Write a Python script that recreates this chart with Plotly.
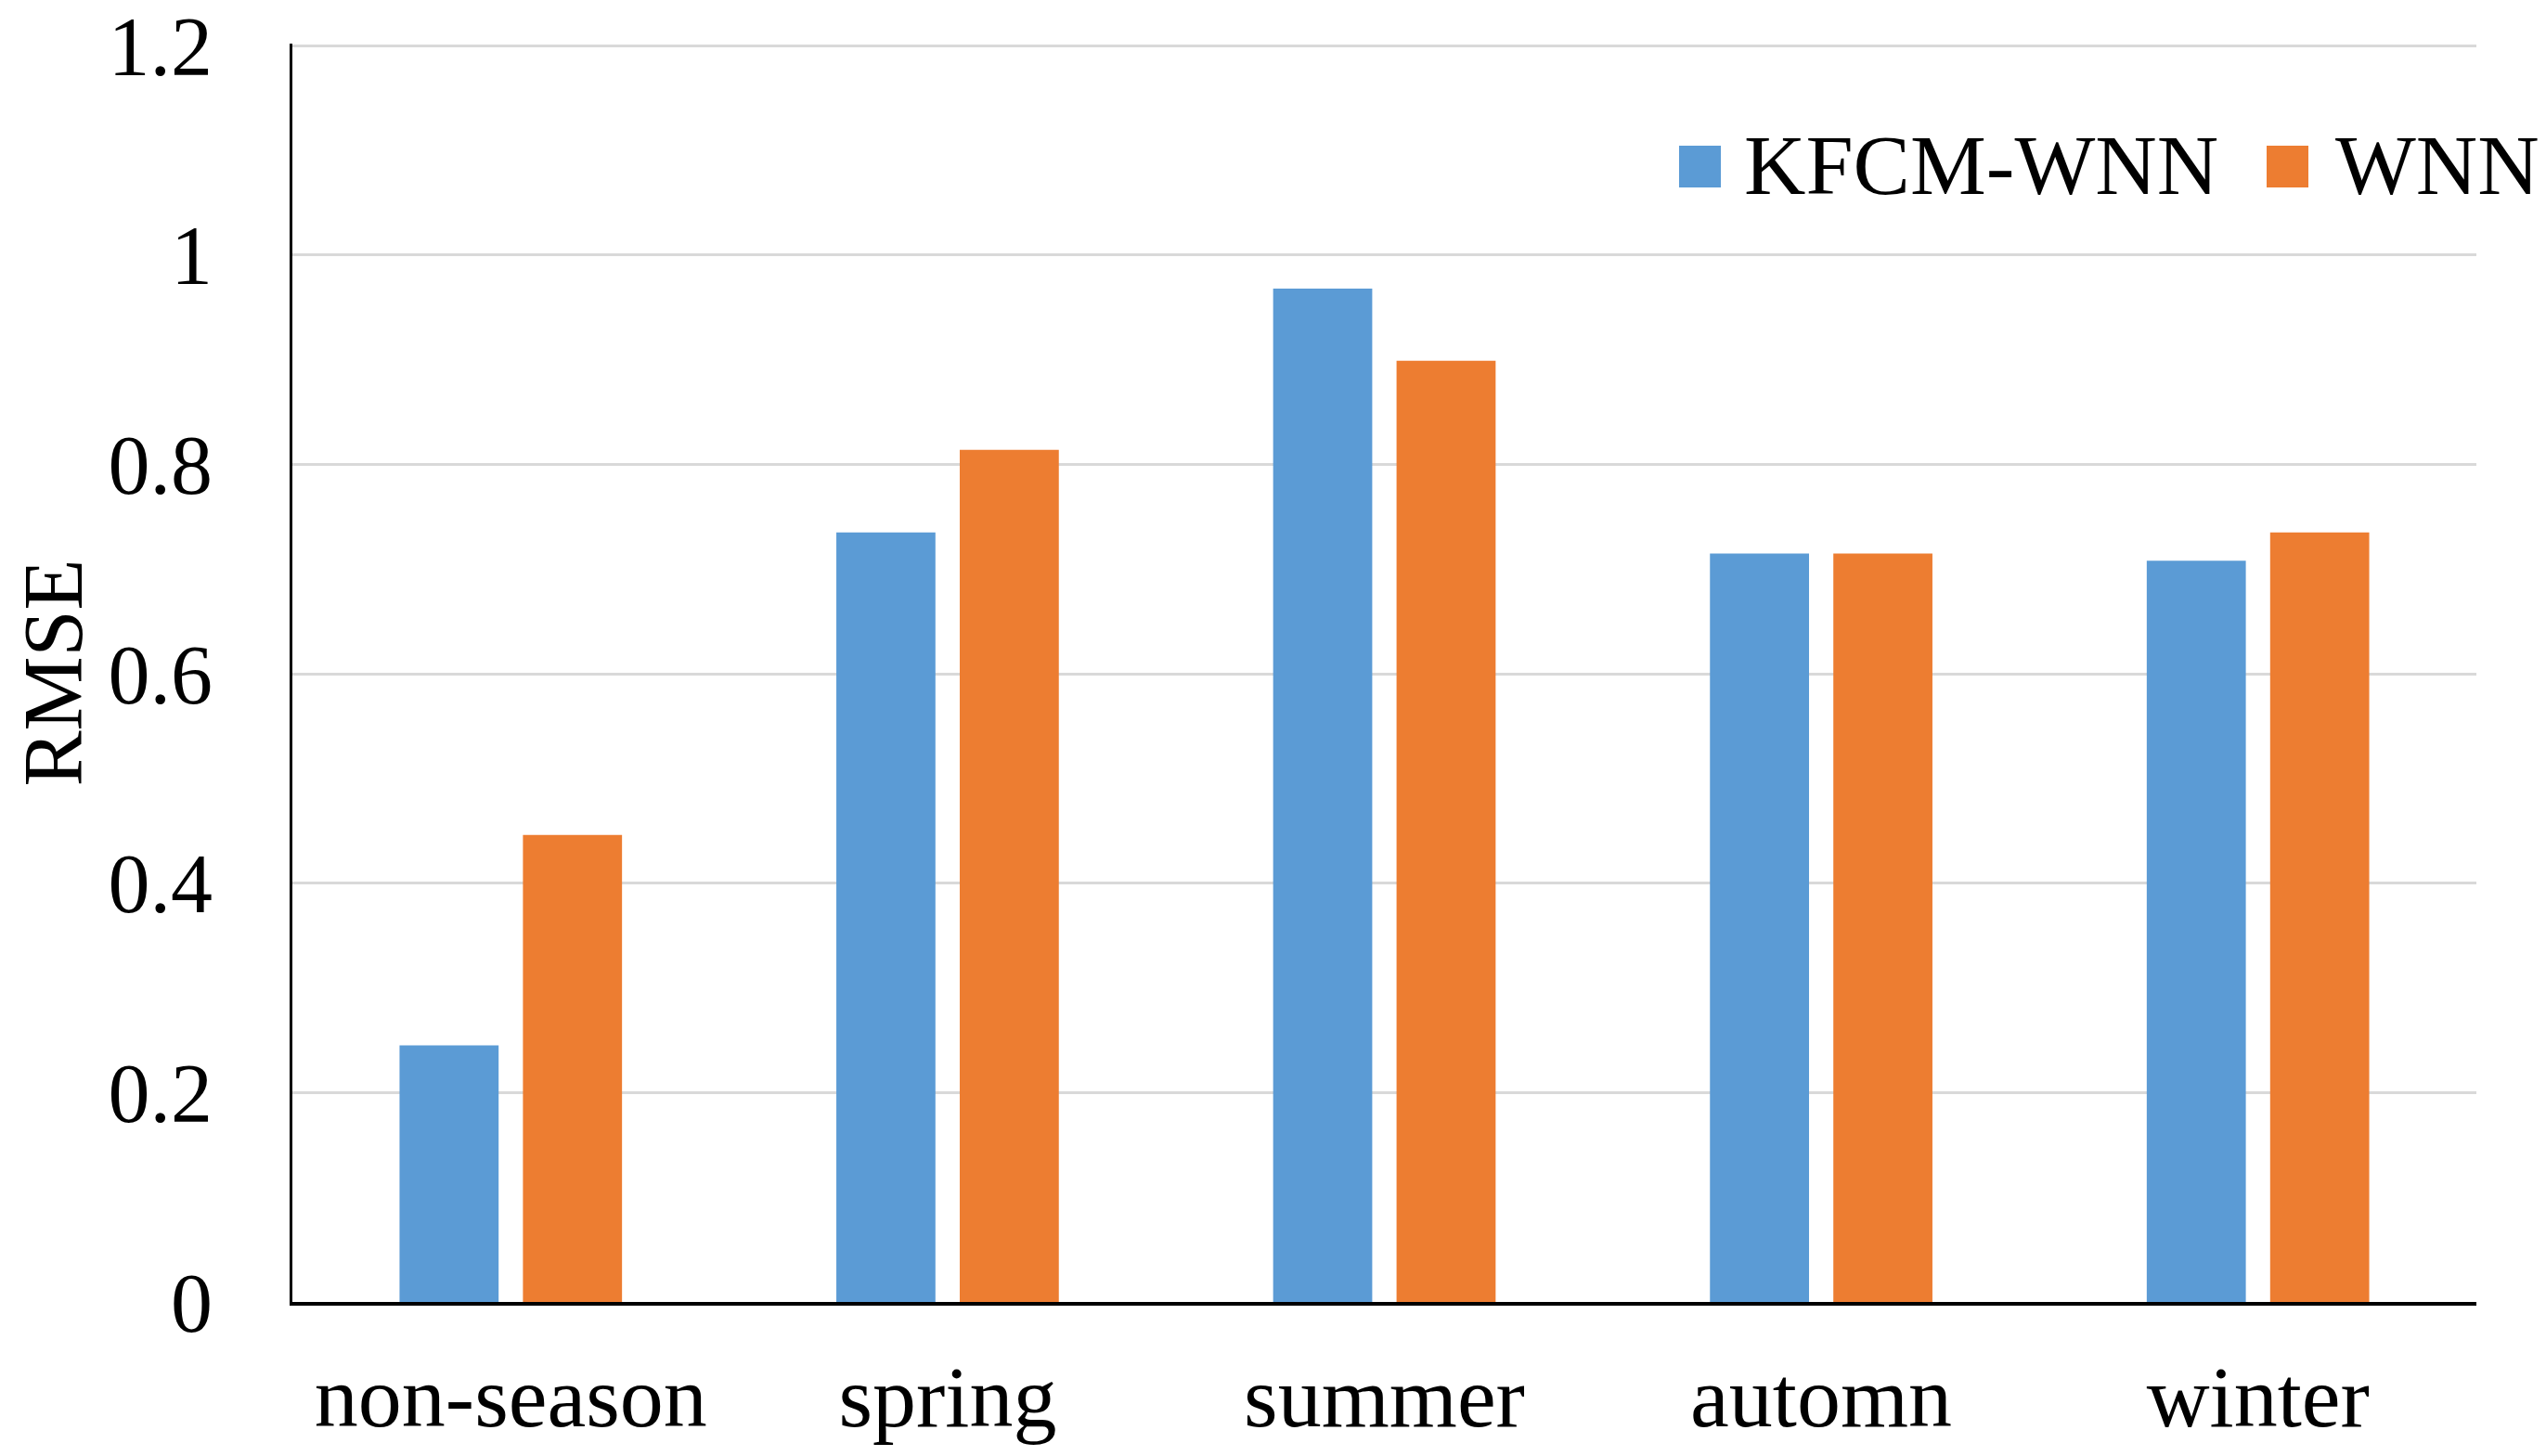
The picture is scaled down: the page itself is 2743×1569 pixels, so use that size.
import plotly.graph_objects as go

categories = ["non-season", "spring", "summer", "automn", "winter"]
series_names = ["KFCM-WNN", "WNN"]
kfcm_wnn = [0.245, 0.735, 0.968, 0.715, 0.708]
wnn = [0.446, 0.814, 0.899, 0.715, 0.735]
y_tick_vals = [0, 0.2, 0.4, 0.6, 0.8, 1.0, 1.2]
y_tick_text = ["0", "0.2", "0.4", "0.6", "0.8", "1", "1.2"]
colors = ["#5B9BD5", "#ED7D31"]

W, H = 2743, 1569
OFF = 8  # default body margin of the page
L, R, T, B = 315 - OFF, 75 + OFF, 47 - OFF, 166 + OFF
FONT = "Liberation Serif"

fig = go.Figure()
for name, vals, col in zip(series_names, [kfcm_wnn, wnn], colors):
    fig.add_trace(go.Bar(x=categories, y=vals, name=name,
                         marker=dict(color=col, line=dict(width=0)),
                         showlegend=False))

fig.update_layout(
    width=W, height=H,
    margin=dict(l=L, r=R, t=T, b=B, pad=0, autoexpand=False),
    paper_bgcolor="white", plot_bgcolor="white",
    barmode="group", bargap=0.435, bargroupgap=0.197,
    font=dict(family=FONT, color="black"),
    xaxis=dict(showline=True, linecolor="black", linewidth=4,
               showgrid=False, ticks="", tickfont=dict(size=94, family=FONT),
               ticklabelstandoff=17, automargin=False),
    yaxis=dict(range=[0, 1.202], tickvals=y_tick_vals, ticktext=y_tick_text,
               showline=True, linecolor="black", linewidth=3,
               showgrid=True, gridcolor="#D9D9D9", gridwidth=3,
               zeroline=False, ticks="", tickfont=dict(size=90, family=FONT),
               ticklabelstandoff=65, automargin=False, ticklabeloverflow="allow",
               title=dict(text="RMSE", font=dict(size=90, family=FONT), standoff=64)),
)

# Custom legend (Excel-style large square swatches); paper coords = plot area
PW = W - L - R
PH = H - T - B
def px_x(p):
    return (p - OFF - L) / PW
def px_y(p):
    return (H - B - (p - OFF)) / PH

legend_items = [
    (series_names[0], colors[0], 1809, 1877),
    (series_names[1], colors[1], 2442, 2514),
]
for name, col, sx, tx in legend_items:
    fig.add_shape(type="rect", xref="paper", yref="paper",
                  x0=px_x(sx), x1=px_x(sx + 45), y0=px_y(202), y1=px_y(157),
                  fillcolor=col, line=dict(width=0), layer="above")
    fig.add_annotation(xref="paper", yref="paper", x=px_x(tx), y=px_y(178),
                       text=name, showarrow=False, xanchor="left", yanchor="middle",
                       font=dict(size=92, family=FONT, color="black"))

fig.write_html("out.html")
